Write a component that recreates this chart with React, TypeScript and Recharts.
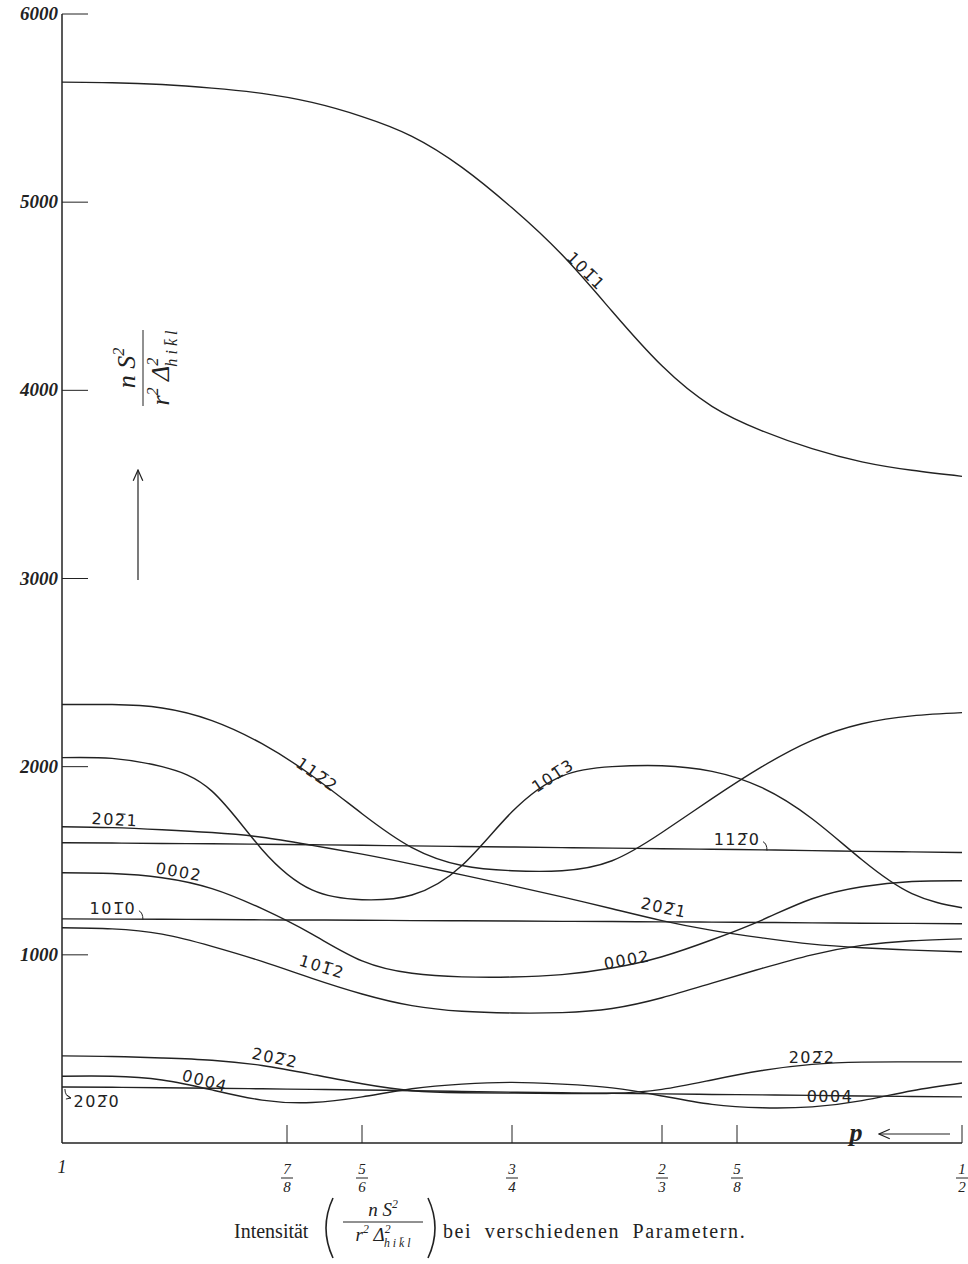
import { LineChart, Line, XAxis, YAxis, ReferenceDot } from "recharts";

// parameter p, read every 50 px from p = 1 (left) to p = 1/2 (right)
const pValues = [
    1, 0.9722, 0.9444, 0.9167, 0.8889, 0.8611, 0.8333, 0.8056, 0.7778, 0.75,
    0.7222, 0.6944, 0.6667, 0.6389, 0.6111, 0.5833, 0.5556, 0.5278, 0.5,
];

const s1011 = [5638, 5635, 5625, 5606, 5578, 5530, 5455, 5350, 5185, 4970, 4720, 4420, 4130, 3915, 3785, 3690, 3620, 3575, 3543];
const s1122 = [2330, 2330, 2312, 2245, 2122, 1952, 1750, 1570, 1475, 1447, 1447, 1500, 1650, 1830, 2000, 2140, 2228, 2270, 2287];
const s1013 = [2048, 2044, 2000, 1870, 1560, 1345, 1293, 1318, 1475, 1760, 1950, 2000, 2005, 1975, 1888, 1723, 1505, 1325, 1250];
const s2021 = [1681, 1676, 1665, 1650, 1625, 1582, 1535, 1482, 1425, 1368, 1308, 1245, 1182, 1130, 1090, 1057, 1038, 1025, 1016];
const s1120 = [1596, 1594, 1592, 1590, 1588, 1585, 1582, 1579, 1576, 1573, 1570, 1567, 1564, 1561, 1558, 1554, 1550, 1547, 1544];
const s0002 = [1436, 1432, 1410, 1352, 1245, 1110, 968, 902, 883, 882, 895, 930, 990, 1080, 1185, 1298, 1362, 1390, 1394];
const s1010 = [1191, 1190, 1189, 1188, 1186, 1185, 1184, 1182, 1181, 1180, 1178, 1177, 1175, 1174, 1172, 1170, 1168, 1167, 1165];
const s1012 = [1144, 1138, 1110, 1045, 965, 875, 792, 730, 700, 691, 693, 715, 772, 850, 928, 1000, 1050, 1075, 1085];
const s2022 = [463, 460, 452, 440, 412, 365, 315, 278, 267, 265, 263, 264, 285, 335, 385, 418, 430, 431, 431];
const s0004 = [355, 355, 335, 282, 228, 215, 245, 288, 313, 322, 313, 293, 250, 205, 187, 192, 225, 278, 319];
const s2020 = [298, 296, 294, 291, 288, 285, 282, 278, 274, 270, 267, 264, 261, 258, 256, 253, 250, 247, 245];

const seriesKeys = ["s1011", "s1122", "s1013", "s2021", "s1120", "s0002", "s1010", "s1012", "s2022", "s0004", "s2020"];
const seriesValues = [s1011, s1122, s1013, s2021, s1120, s0002, s1010, s1012, s2022, s0004, s2020];

const xTicks = [1, 7 / 8, 5 / 6, 3 / 4, 2 / 3, 5 / 8, 1 / 2];
const xTickNum = ["1", "7", "5", "3", "2", "5", "1"];
const xTickDen = ["", "8", "6", "4", "3", "8", "2"];
const yTicks = [1000, 2000, 3000, 4000, 5000, 6000];

// curve labels: [p, value, text, angle]
const curveLabels: [number, number, string, number][] = [
    [0.7089, 4633, "101\u03051", 45],
    [0.8583, 1957, "112\u03052", 35],
    [0.7272, 1952, "101\u03053", -33],
    [0.9706, 1718, "202\u03051", 3],
    [0.625, 1612, "112\u03050", 0],
    [0.935, 1441, "0002", 10],
    [0.9717, 1245, "101\u03050", 0],
    [0.8556, 936, "101\u03052", 17],
    [0.6656, 1250, "202\u03051", 12],
    [0.6861, 973, "0002", -10],
    [0.8817, 452, "202\u03052", 12],
    [0.9206, 330, "0004", 15],
    [0.9806, 223, "202\u03050", 0],
    [0.5833, 457, "202\u03052", 0],
    [0.5733, 245, "0004", 0],
];

const INK = "#222";
const SERIF = "'Liberation Serif', 'DejaVu Serif', serif";

const rows = pValues.map((p, i) => {
    const row: Record<string, number> = { p };
    seriesKeys.forEach((k, j) => {
        row[k] = seriesValues[j][i];
    });
    return row;
});

const XTick = (props: any) => {
    const { x, y, payload } = props;
    const i = xTicks.findIndex((t) => Math.abs(t - payload.value) < 1e-6);
    if (i < 0) return null;
    if (!xTickDen[i]) {
        return (
            <text x={x} y={y + 30} textAnchor="middle" fontFamily={SERIF} fontStyle="italic" fontSize={18} fill={INK}>
                {xTickNum[i]}
            </text>
        );
    }
    return (
        <g>
            <line x1={x} y1={y} x2={x} y2={y - 18} stroke={INK} strokeWidth={1} />
            <text x={x} y={y + 31} textAnchor="middle" fontFamily={SERIF} fontStyle="italic" fontSize={15} fill={INK}>
                {xTickNum[i]}
            </text>
            <line x1={x - 6} y1={y + 35} x2={x + 6} y2={y + 35} stroke={INK} strokeWidth={1} />
            <text x={x} y={y + 49} textAnchor="middle" fontFamily={SERIF} fontStyle="italic" fontSize={15} fill={INK}>
                {xTickDen[i]}
            </text>
        </g>
    );
};

const YTick = (props: any) => {
    const { x, y, payload } = props;
    return (
        <g>
            <line x1={x} y1={y} x2={x + 26} y2={y} stroke={INK} strokeWidth={1} />
            <text x={x - 4} y={y + 6} textAnchor="end" fontFamily={SERIF} fontStyle="italic" fontWeight="bold" fontSize={19} fill={INK}>
                {payload.value}
            </text>
        </g>
    );
};

const CurveLabel = (props: any) => {
    const { cx, cy, text, angle } = props;
    const hook = text === "112\u03050" || text === "101\u03050";
    const arrow = text === "202\u03050";
    return (
        <g>
            <text
                x={cx}
                y={cy}
                textAnchor="middle"
                dominantBaseline="central"
                transform={`rotate(${angle} ${cx} ${cy})`}
                fontFamily="'DejaVu Sans', sans-serif"
                fontSize={16}
                letterSpacing={1.5}
                fill={INK}
            >
                {text}
            </text>
            {hook && (
                <path d={`M ${cx + 26} ${cy + 2} q 4 2 4 9`} stroke={INK} fill="none" strokeWidth={1} />
            )}
            {arrow && (
                <path d={`M ${cx - 32} ${cy - 12} q 0 7 6 9 m -4 -3 l 4 3 l -5 1`} stroke={INK} fill="none" strokeWidth={1} />
            )}
        </g>
    );
};

const Frac = ({ x, y, size, half }: { x: number; y: number; size: number; half: number }) => {
    const sup = size * 0.62;
    return (
        <g fontFamily={SERIF} fill={INK}>
            <text x={x} y={y - size * 0.3} textAnchor="middle" fontSize={size} fontStyle="italic">
                n S<tspan fontSize={sup} dy={-size * 0.42}>2</tspan>
            </text>
            <line x1={x - half} y1={y} x2={x + half} y2={y} stroke={INK} strokeWidth={1} />
            <text x={x} y={y + size * 1.0} textAnchor="middle" fontSize={size} fontStyle="italic">
                r<tspan fontSize={sup} dy={-size * 0.42}>2</tspan>
                <tspan dy={size * 0.42}> Δ</tspan>
                <tspan fontSize={sup} dy={-size * 0.42}>2</tspan>
                <tspan fontSize={sup} dx={-size * 0.35} dy={size * 0.72}>h i k̄ l</tspan>
            </text>
        </g>
    );
};

const App = () => {
    return (
        <div style={{ position: "absolute", left: 0, top: 0, width: 968, height: 1264, background: "#fff" }}>
            <LineChart width={968} height={1264} data={rows} margin={{ top: 14, right: 6, left: 0, bottom: 0 }}>
                <XAxis
                    dataKey="p"
                    type="number"
                    domain={[0.5, 1]}
                    reversed
                    ticks={xTicks}
                    interval={0}
                    height={121}
                    tickLine={false}
                    tickSize={0}
                    tickMargin={0}
                    axisLine={{ stroke: INK, strokeWidth: 1.5 }}
                    tick={(p: any) => <XTick {...p} />}
                />
                <YAxis
                    type="number"
                    domain={[0, 6000]}
                    ticks={yTicks}
                    interval={0}
                    width={62}
                    tickLine={false}
                    tickSize={0}
                    tickMargin={0}
                    axisLine={{ stroke: INK, strokeWidth: 1.5 }}
                    tick={(p: any) => <YTick {...p} />}
                />
                {seriesKeys.map((k) => (
                    <Line
                        key={k}
                        dataKey={k}
                        type="natural"
                        stroke={INK}
                        strokeWidth={1.4}
                        dot={false}
                        activeDot={false}
                        isAnimationActive={false}
                    />
                ))}
                {curveLabels.map(([p, v, text, angle], i) => (
                    <ReferenceDot
                        key={i}
                        x={p}
                        y={v}
                        r={0}
                        shape={(sp: any) => <CurveLabel {...sp} text={text} angle={angle} />}
                    />
                ))}
            </LineChart>
            <svg
                width={968}
                height={1264}
                style={{ position: "absolute", left: 0, top: 0, pointerEvents: "none" }}
            >
                <defs>
                    <marker id="ah" markerWidth="10" markerHeight="10" refX="9" refY="5" orient="auto">
                        <path d="M 0 1 L 9 5 L 0 9" fill="none" stroke={INK} strokeWidth={1} />
                    </marker>
                </defs>
                {/* y title */}
                <g transform="translate(143 368) rotate(-90)">
                    <Frac x={0} y={0} size={26} half={38} />
                </g>
                <line x1={138} y1={580} x2={138} y2={470} stroke={INK} strokeWidth={1.2} markerEnd="url(#ah)" />
                {/* p arrow */}
                <text x={856} y={1141} textAnchor="middle" fontFamily={SERIF} fontStyle="italic" fontWeight="bold" fontSize={26} fill={INK}>
                    p
                </text>
                <line x1={950} y1={1134} x2={879} y2={1134} stroke={INK} strokeWidth={1.2} markerEnd="url(#ah)" />
                {/* caption */}
                <text x={234} y={1238} fontFamily={SERIF} fontSize={20} fill={INK}>
                    Intensität
                </text>
                <path d="M 333 1198 q -14 30 0 60" stroke={INK} fill="none" strokeWidth={1.6} />
                <Frac x={383} y={1222} size={19} half={40} />
                <path d="M 428 1198 q 14 30 0 60" stroke={INK} fill="none" strokeWidth={1.6} />
                <text x={443} y={1238} fontFamily={SERIF} fontSize={20} letterSpacing={1.6} wordSpacing={6} fill={INK}>
                    bei verschiedenen Parametern.
                </text>
            </svg>
        </div>
    );
};

export default App;
